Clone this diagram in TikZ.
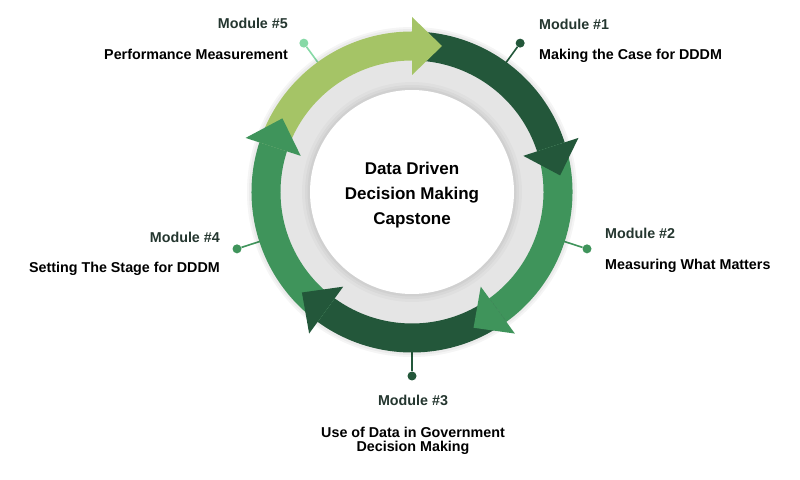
\documentclass[tikz,border=0pt]{standalone}
\usepackage{fontspec}
\setmainfont{Liberation Sans}
\usetikzlibrary{calc}
\definecolor{lightg}{HTML}{A5C466}
\definecolor{darkg}{HTML}{23573A}
\definecolor{midg}{HTML}{3F945B}
\definecolor{mint}{HTML}{86D9A6}
\definecolor{ringgray}{HTML}{E5E5E5}
\definecolor{labcol}{HTML}{24362F}
\newcommand\bandseg[3]{\fill[#1] (#2:160.5) arc[start angle=#2,end angle=#3,radius=160.5] -- (#3:131.5) arc[start angle=#3,end angle=#2,radius=131.5] -- cycle;}
\newcommand\arrhead[2]{\fill[#1] (#2:117) -- (#2:175) -- ($(#2:146)+(#2-90:30)$) -- cycle;}
\begin{document}
\begin{tikzpicture}[x=1pt,y=1pt,
  lab/.style={font=\fontsize{14.3}{16}\selectfont\bfseries, text=labcol, inner sep=0pt},
  desc/.style={font=\fontsize{14.3}{14}\selectfont\bfseries, text=black, inner sep=0pt},
  ttl/.style={font=\fontsize{17}{20}\selectfont\bfseries, text=black, inner sep=0pt},
  dot/.style={circle, fill=#1, inner sep=0pt, minimum size=9pt},
  conn/.style={draw=#1, line width=1.6pt}]
\useasboundingbox (0,0) rectangle (800,479);
\fill[white] (0,0) rectangle (800,479);
\coordinate (O) at (412,287);
\begin{scope}[shift={(O)}]
  % connectors
  \coordinate (r5) at (126:158);
  \node[dot=mint] (d5) at (126:184) {};
  \draw[conn=mint] (r5) -- (d5);
  \coordinate (r1) at (54:158);
  \node[dot=darkg] (d1) at (54:184) {};
  \draw[conn=darkg] (r1) -- (d1);
  \coordinate (r2) at (-18:158);
  \node[dot=midg] (d2) at (-18:184) {};
  \draw[conn=midg] (r2) -- (d2);
  \coordinate (r3) at (-90:158);
  \node[dot=darkg] (d3) at (-90:184) {};
  \draw[conn=darkg] (r3) -- (d3);
  \coordinate (r4) at (198:158);
  \node[dot=midg] (d4) at (198:184) {};
  \draw[conn=midg] (r4) -- (d4);
  % soft outer shadow
  \fill[black,opacity=0.04] (0,0) circle (165);
  \fill[black,opacity=0.04] (0,0) circle (163);
  % gray ring and inner disk
  \fill[ringgray] (0,0) circle (137);
  \fill[black,opacity=0.025] (0,0) circle (110);
  \fill[black,opacity=0.03] (0,0) circle (107);
  \fill[black,opacity=0.035] (0,0) circle (104.5);
  \fill[white] (0,0) circle (102);
  % bands
  \bandseg{lightg}{162}{90}
  \bandseg{darkg}{90}{18}
  \bandseg{midg}{18}{-54}
  \bandseg{darkg}{-54}{-126}
  \bandseg{midg}{-126}{-198}
  % arrow heads
  \arrhead{lightg}{90}
  \arrhead{darkg}{18}
  \arrhead{midg}{-54}
  \arrhead{darkg}{-126}
  \arrhead{midg}{-198}
\end{scope}
% centre title
\node[ttl, anchor=base] (t1) at (412,304) {Data Driven};
\node[ttl, anchor=base] (t2) at (412,279) {Decision Making};
\node[ttl, anchor=base] (t3) at (412,254) {Capstone};
% labels
\node[lab, anchor=base east] (m5l) at (288,450) {Module \#5};
\node[desc, anchor=base east] (m5d) at (288,419) {Performance Measurement};
\node[lab, anchor=base west] (m1l) at (539,449) {Module \#1};
\node[desc, anchor=base west] (m1d) at (539,419) {Making the Case for DDDM};
\node[lab, anchor=base west] (m2l) at (605,240) {Module \#2};
\node[desc, anchor=base west] (m2d) at (605,209) {Measuring What Matters};
\node[lab, anchor=base] (m3l) at (413,73) {Module \#3};
\node[desc, anchor=north, align=center] (m3d) at (413,52.5) {Use of Data in Government\\Decision Making};
\node[lab, anchor=base east] (m4l) at (220,236) {Module \#4};
\node[desc, anchor=base east] (m4d) at (220,206) {Setting The Stage for DDDM};
\end{tikzpicture}
\end{document}
